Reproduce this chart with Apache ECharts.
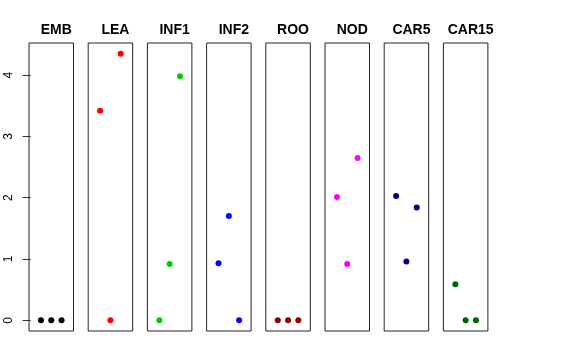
<!DOCTYPE html>
<html><head><meta charset="utf-8">
<script src="https://cdn.jsdelivr.net/npm/echarts@6/dist/echarts.min.js"></script>
<style>html,body{margin:0;padding:0;background:#fff}#c{width:576px;height:360px}</style>
</head><body><div id="c"></div>
<script>
var panels = ["EMB","LEA","INF1","INF2","ROO","NOD","CAR5","CAR15"];
var colors = ["#000000","#FF0000","#00CD00","#0000FF","#8B0000","#FF00FF","#000080","#006400"];
var xPos = [1, 2, 3];
var EMB = [0, 0, 0];
var LEA = [3.42, 0, 4.35];
var INF1 = [0, 0.92, 3.98];
var INF2 = [0.93, 1.70, 0];
var ROO = [0, 0, 0];
var NOD = [2.01, 0.92, 2.65];
var CAR5 = [2.03, 0.96, 1.84];
var CAR15 = [0.59, 0, 0];
var values = [EMB, LEA, INF1, INF2, ROO, NOD, CAR5, CAR15];
var yTicks = [0, 1, 2, 3, 4];

var grids = [], xAxes = [], yAxes = [], series = [], titles = [];
var left0 = 29, pitch = 59.2, panelW = 44.5, panelTop = 43, panelH = 288;
panels.forEach(function (name, i) {
  var l = left0 + i * pitch;
  grids.push({left: l, top: panelTop, width: panelW, height: panelH, show: true, borderColor: '#222', borderWidth: 1, outerBoundsMode: 'none'});
  xAxes.push({type: 'value', gridIndex: i, min: -0.16, max: 4.16, show: false});
  yAxes.push({
    type: 'value', gridIndex: i, min: -0.174, max: 4.524, show: i === 0,
    splitLine: {show: false},
    axisLine: {show: false},
    axisTick: {show: true, length: 8, inside: false, customValues: yTicks, lineStyle: {color: '#333'}},
    axisLabel: {show: true, customValues: yTicks, rotate: 90, margin: 14, fontSize: 12, color: '#000', fontFamily: 'Liberation Sans, Arial, sans-serif'}
  });
  titles.push({text: name, left: l + panelW / 2, top: 18, textAlign: 'center',
    textStyle: {fontSize: 14, fontWeight: 'bold', color: '#000', fontFamily: 'Liberation Sans, Arial, sans-serif'}});
  series.push({
    type: 'scatter', xAxisIndex: i, yAxisIndex: i, symbolSize: 6, silent: true,
    itemStyle: {color: colors[i], opacity: 1},
    data: xPos.map(function (x, k) { return [x, values[i][k]]; })
  });
});
var chart = echarts.init(document.getElementById('c'), null, {renderer: 'canvas'});
chart.setOption({animation: false, title: titles, grid: grids, xAxis: xAxes, yAxis: yAxes, series: series});
</script></body></html>
